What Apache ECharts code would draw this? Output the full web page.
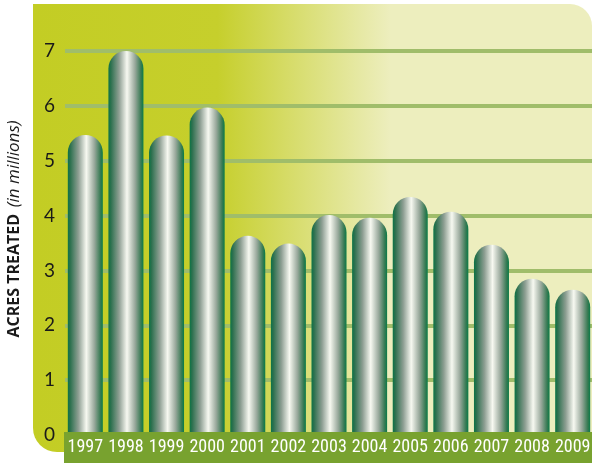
<!DOCTYPE html>
<html>
<head>
<meta charset="utf-8">
<script src="https://cdn.jsdelivr.net/npm/echarts@6/dist/echarts.min.js"></script>
<style>
  html, body { margin: 0; padding: 0; background: #fff; }
  #chart { width: 592px; height: 463px; }
</style>
</head>
<body>
<div id="chart"></div>
<script>
const years = ['1997', '1998', '1999', '2000', '2001', '2002', '2003', '2004', '2005', '2006', '2007', '2008', '2009']
const acres = [5.47, 7.06, 5.46, 5.97, 3.63, 3.49, 4.01, 3.96, 4.34, 4.07, 3.47, 2.85, 2.65]
const yTicks = [0, 1, 2, 3, 4, 5, 6, 7]

const chart = echarts.init(document.getElementById('chart'))

// metal-tube look for the bars
const tube = new echarts.graphic.LinearGradient(0, 0, 1, 0, [
  { offset: 0, color: '#0a7446' },
  { offset: 0.07, color: '#2c704e' },
  { offset: 0.3, color: '#8d9e92' },
  { offset: 0.53, color: '#f7f9f1' },
  { offset: 0.76, color: '#98a89b' },
  { offset: 0.93, color: '#377a53' },
  { offset: 1, color: '#087b48' }
])

chart.setOption({
  animation: false,
  graphic: [
    {
      type: 'rect',
      z: -10,
      shape: { x: 33, y: 4, width: 559, height: 448, r: [0, 22, 0, 24] },
      style: {
        fill: new echarts.graphic.LinearGradient(0, 0, 1, 0, [
          { offset: 0, color: '#c3cd24' },
          { offset: 0.33, color: '#c6cf2c' },
          { offset: 0.64, color: '#edeebe' },
          { offset: 1, color: '#edeebe' }
        ])
      }
    },
    {
      type: 'rect',
      z: 10,
      shape: { x: 64, y: 432, width: 528, height: 31 },
      style: { fill: '#78a22f' }
    }
  ],
  grid: { left: 65, right: -1, top: 51, bottom: 28, containLabel: false, outerBoundsMode: 'none' },
  xAxis: {
    type: 'category',
    data: years,
    z: 20,
    axisLine: { show: false },
    axisTick: { show: false },
    axisLabel: {
      color: '#ffffff',
      fontSize: 18,
      fontFamily: '"Liberation Sans Narrow", "Roboto Condensed", "DejaVu Sans Condensed", sans-serif',
      margin: 3,
      interval: 0
    }
  },
  yAxis: {
    type: 'value',
    min: 0,
    max: 7,
    interval: 1,
    name: '{b|ACRES TREATED}  {i|(in millions)}',
    nameLocation: 'middle',
    nameGap: 42,
    nameTextStyle: {
      padding: [0, 0, 0, 28],
      rich: {
        b: { fontSize: 16, fontWeight: 'bold', color: '#1a1a1a', fontFamily: '"Open Sans", sans-serif' },
        i: { fontSize: 17, fontStyle: 'italic', color: '#1a1a1a', fontFamily: '"Open Sans", sans-serif' }
      }
    },
    axisLine: { show: false },
    axisTick: { show: false },
    axisLabel: {
      color: '#1a1a1a',
      fontSize: 19,
      fontFamily: 'Lato, "Open Sans", sans-serif',
      margin: 10,
      formatter: v => (yTicks.includes(v) ? String(v) : '')
    },
    splitLine: { lineStyle: { color: '#a0bd6a', width: 4 } }
  },
  series: [
    {
      type: 'bar',
      data: acres,
      barWidth: 35,
      itemStyle: { color: tube, borderRadius: [17.5, 17.5, 0, 0] }
    }
  ]
})
</script>
</body>
</html>
